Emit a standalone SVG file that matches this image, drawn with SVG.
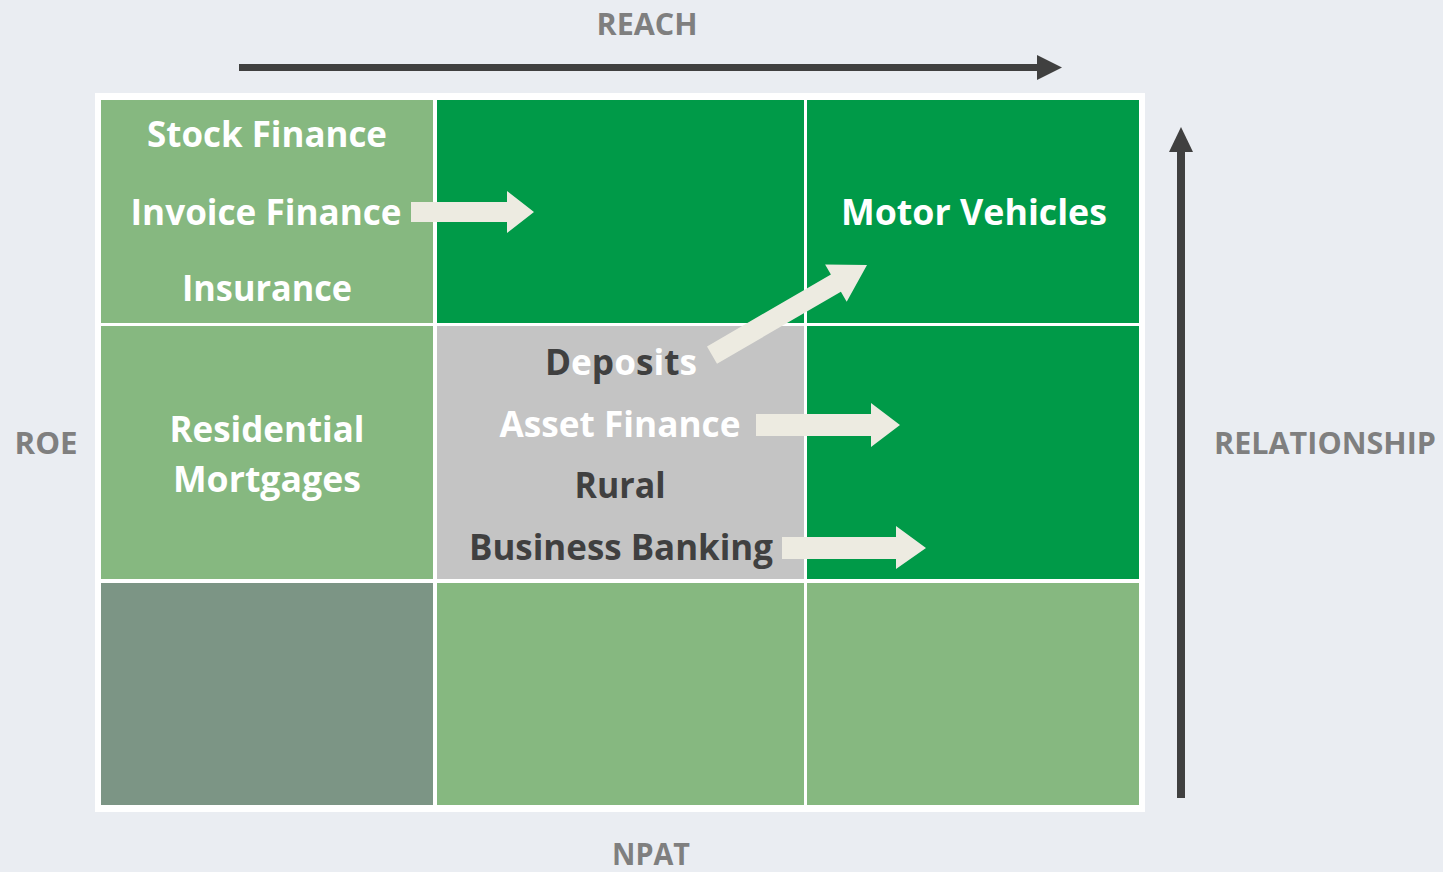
<svg xmlns="http://www.w3.org/2000/svg" width="1443" height="872" viewBox="0 0 1443 872">
<style>
.lg{fill:#86B880}
.dg{fill:#009A48}
.gy{fill:#C4C4C4}
.gg{fill:#7C9585}
.t{font-family:"Open Sans","Liberation Sans",sans-serif;font-weight:700;font-size:35px;text-anchor:middle}
.w{fill:#FFFFFF}
.d{fill:#404040}
.ax{font-family:"Open Sans","Liberation Sans",sans-serif;font-weight:700;font-size:30px;fill:#7F7F7F;text-anchor:middle}
.blk{fill:#EDEBE1}
.axl{fill:#404040}
</style>
<rect x="0" y="0" width="1443" height="872" fill="#EAEDF2"/>
<g id="frame">
<rect x="95" y="93" width="1050" height="719" fill="#FFFFFF"/>
</g>
<g id="cell-r1c1"><rect class="lg" x="101" y="100" width="332" height="223"/></g>
<g id="cell-r1c2"><rect class="dg" x="437" y="100" width="367" height="223"/></g>
<g id="cell-r1c3"><rect class="dg" x="807" y="100" width="332" height="223"/></g>
<g id="cell-r2c1"><rect class="lg" x="101" y="326" width="332" height="253"/></g>
<g id="cell-r2c2"><rect class="gy" x="437" y="326" width="367" height="253"/></g>
<g id="cell-r2c3"><rect class="dg" x="807" y="326" width="332" height="253"/></g>
<g id="cell-r3c1"><rect class="gg" x="101" y="583" width="332" height="222"/></g>
<g id="cell-r3c2"><rect class="lg" x="437" y="583" width="367" height="222"/></g>
<g id="cell-r3c3"><rect class="lg" x="807" y="583" width="332" height="222"/></g>

<g id="labels-r1c1">
<text class="t w" x="267" y="147" textLength="240" lengthAdjust="spacingAndGlyphs">Stock Finance</text>
<text class="t w" x="266" y="225" textLength="271" lengthAdjust="spacingAndGlyphs">Invoice Finance</text>
<text class="t w" x="267" y="301" textLength="170" lengthAdjust="spacingAndGlyphs">Insurance</text>
</g>
<g id="labels-r1c3">
<text class="t w" x="974" y="225" textLength="266" lengthAdjust="spacingAndGlyphs">Motor Vehicles</text>
</g>
<g id="labels-r2c1">
<text class="t w" x="267" y="442" textLength="195" lengthAdjust="spacingAndGlyphs">Residential</text>
<text class="t w" x="267" y="492" textLength="188" lengthAdjust="spacingAndGlyphs">Mortgages</text>
</g>
<g id="labels-r2c2">
<text class="t d" x="621" y="375" textLength="152" lengthAdjust="spacingAndGlyphs"><tspan class="d">D</tspan><tspan class="w">e</tspan><tspan class="d">p</tspan><tspan class="w">o</tspan><tspan class="d">s</tspan><tspan class="w">i</tspan><tspan class="d">t</tspan><tspan class="w">s</tspan></text>
<text class="t w" x="620" y="437" textLength="241" lengthAdjust="spacingAndGlyphs">Asset Finance</text>
<text class="t d" x="620" y="498" textLength="91" lengthAdjust="spacingAndGlyphs">Rural</text>
<text class="t d" x="621" y="560" textLength="304" lengthAdjust="spacingAndGlyphs">Business Banking</text>
</g>

<g id="connectors">
<polygon class="blk" points="411,202 507,202 507,191 534,212 507,233 507,222 411,222"/>
<polygon class="blk" points="756,414 871,414 871,403 900,425 871,447 871,436 756,436"/>
<polygon class="blk" points="782,537 896,537 896,526 926,548 896,569 896,559 782,559"/>
<polygon class="blk" points="707,346.4 830.9,274.4 825.1,264.5 867,265 846.7,301.7 840.9,291.8 717,363.7"/>
<g id="axis-reach">
<rect class="axl" x="239" y="64" width="800" height="7"/>
<polygon class="axl" points="1037,55 1062,67.5 1037,80"/>
</g>
<g id="axis-relationship">
<rect class="axl" x="1177" y="150" width="8" height="648"/>
<polygon class="axl" points="1169,152 1181,127 1193,152"/>
</g>
</g>

<g id="axis-labels">
<text class="ax" x="647" y="35" textLength="101" lengthAdjust="spacingAndGlyphs">REACH</text>
<text class="ax" x="651" y="865" textLength="78" lengthAdjust="spacingAndGlyphs">NPAT</text>
<text class="ax" x="46" y="454" textLength="63" lengthAdjust="spacingAndGlyphs">ROE</text>
<text class="ax" x="1325" y="454" textLength="222" lengthAdjust="spacingAndGlyphs">RELATIONSHIP</text>
</g>
</svg>
